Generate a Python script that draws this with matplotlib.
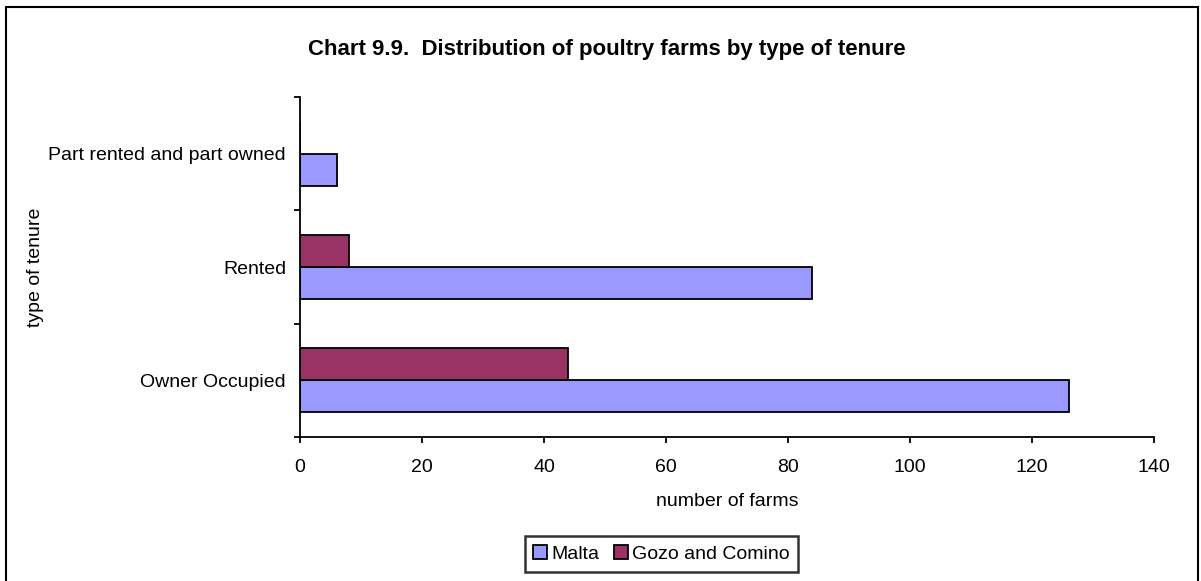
import matplotlib
matplotlib.use('Agg')
import numpy as np
from matplotlib import pyplot as plt
from matplotlib.patches import Rectangle

plt.rcParams['font.family'] = ['Liberation Sans', 'DejaVu Sans']

categories = ['Owner Occupied', 'Rented', 'Part rented and part owned']
malta = [126, 84, 6]
gozo = [44, 8, 0]
xticks = [0, 20, 40, 60, 80, 100, 120, 140]

fig = plt.figure(figsize=(12.01, 5.81), dpi=100)
ax = fig.add_axes([300 / 1201, 1 - 437 / 581, 854 / 1201, 340 / 581])

pos = np.arange(len(categories))
h = 0.283
ax.barh(pos - h / 2, malta, height=h, color='#9999FF', edgecolor='black',
        linewidth=1.3, label='Malta')
ax.barh(pos + h / 2, gozo, height=h, color='#993366', edgecolor='black',
        linewidth=1.3, label='Gozo and Comino')

ax.set_xlim(0, 140)
ax.set_ylim(-0.5, 2.5)
ax.set_xticks(xticks)
ax.set_xticklabels([str(v) for v in xticks])
ax.set_yticks(pos)
ax.set_yticklabels(categories)
ax.set_yticks([-0.5, 0.5, 1.5, 2.5], minor=True)
ax.tick_params(axis='y', which='major', length=0, pad=10, labelsize=14)
ax.tick_params(axis='y', which='minor', length=4.5, width=1.3)
ax.tick_params(axis='x', length=4.5, width=1.3, pad=11.5, labelsize=14)
for s in ['top', 'right']:
    ax.spines[s].set_visible(False)
for s in ['left', 'bottom']:
    ax.spines[s].set_linewidth(1.3)

ax.set_xlabel('number of farms', fontsize=14, labelpad=12)
fig.text(35 / 1201, 1 - 267 / 581, 'type of tenure', rotation=90,
         ha='center', va='center', fontsize=14)
fig.text(607 / 1201, 1 - 50 / 581,
         'Chart 9.9.  Distribution of poultry farms by type of tenure',
         ha='center', va='center', fontsize=16, fontweight='bold')

leg = fig.legend(loc='center', bbox_to_anchor=(661.5 / 1201, 1 - 554 / 581),
                 ncol=2, fontsize=14, frameon=True, fancybox=False,
                 edgecolor='black', handlelength=0.7, handleheight=0.7,
                 handletextpad=0.2, columnspacing=0.8, borderpad=0.45,
                 borderaxespad=0)
leg.get_frame().set_linewidth(1.8)

# outer chart border (bottom edge is cut off)
fig.add_artist(Rectangle((6 / 1201, -0.05), 1192 / 1201, 1.05 - 7 / 581,
                         transform=fig.transFigure, fill=False,
                         edgecolor='black', linewidth=1.5, clip_on=False))

fig.savefig('out.png', dpi=100)
